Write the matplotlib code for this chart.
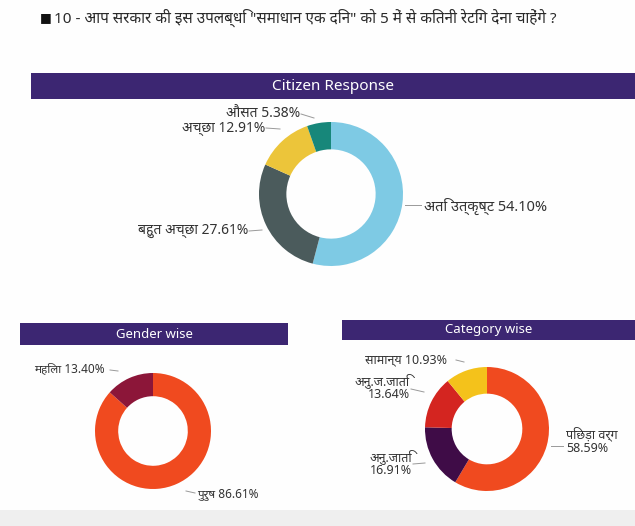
import matplotlib
matplotlib.use("Agg")
import matplotlib.pyplot as plt
from matplotlib import font_manager
from matplotlib.ft2font import FT2Font
from matplotlib.patches import Rectangle

# ---- data -------------------------------------------------------------
question = "10 - आप सरकार की इस उपलब्धि \"समाधान एक दिन\" को 5 में से कितनी रेटिंग देना चाहेंगे ?"

citizen_labels = ["अति उत्कृष्ट", "बहुत अच्छा", "अच्छा", "औसत"]
citizen_values = [54.10, 27.61, 12.91, 5.38]

gender_labels = ["पुरुष", "महिला"]
gender_values = [86.61, 13.40]

category_labels = ["पिछड़ा वर्ग", "अनु.जाति", "अनु.ज.जाति", "सामान्य"]
category_values = [58.59, 16.91, 13.64, 10.93]

# ---- font with Devanagari support --------------------------------------
def find_devanagari_font():
    seen = set()
    for fe in font_manager.fontManager.ttflist:
        if fe.fname in seen:
            continue
        seen.add(fe.fname)
        try:
            cmap = FT2Font(fe.fname).get_charmap()
        except Exception:
            continue
        if 0x0905 in cmap and 0x0915 in cmap:
            return fe.name
    return None

dev = find_devanagari_font()
families = ["Noto Sans"] + ([dev] if dev else []) + ["DejaVu Sans"]
plt.rcParams["font.family"] = families

W, H = 635, 526
fig = plt.figure(figsize=(W / 100, H / 100), dpi=100)
fig.patch.set_facecolor("#fefefe")


def fx(x):
    return x / W


def fy(y):
    return 1 - y / H


def px_axes(x, y, w, h):
    return fig.add_axes([fx(x), fy(y + h), w / W, h / H])


# bottom grey strip
fig.patches.append(Rectangle((0, 0), 1, 16 / H, transform=fig.transFigure,
                             facecolor="#efefef", edgecolor="none", zorder=0))

# question line
fig.text(fx(40), fy(18), "■", fontsize=9, color="#111111", va="center",
         family="DejaVu Sans")
fig.text(fx(54), fy(18), question, fontsize=11, color="#2a2a2a", va="center")

BANNER = "#3c2672"


def banner(x0, x1, y0, y1, text, size=7.5):
    fig.patches.append(Rectangle((fx(x0), fy(y1)), (x1 - x0) / W, (y1 - y0) / H,
                                 transform=fig.transFigure, facecolor=BANNER,
                                 edgecolor="none", zorder=1))
    fig.text(fx((x0 + x1) / 2), fy((y0 + y1) / 2), text, color="white",
             fontsize=size, ha="center", va="center", zorder=2)


banner(31, 635, 73, 99, "Citizen Response", 11)
banner(20, 288, 323, 345, "Gender wise", 9.5)
banner(342, 635, 320, 340, "Category wise", 9.5)


def donut(cx, cy, r, values, colors, width):
    ax = px_axes(cx - r, cy - r, 2 * r, 2 * r)
    ax.pie(values, colors=colors, startangle=90, counterclock=False,
           radius=1, wedgeprops=dict(width=width, edgecolor="none"))
    ax.set_xlim(-1, 1)
    ax.set_ylim(-1, 1)
    ax.set_aspect("equal")
    ax.axis("off")
    return ax


donut(331, 194, 72, citizen_values,
      ["#7ecae4", "#4b5b5c", "#ecc53a", "#17877a"], 0.38)
donut(153, 431, 58, gender_values, ["#f04a1f", "#8c1639"], 0.4)
donut(487, 429, 62, category_values,
      ["#f04a1f", "#3f0c47", "#d42520", "#f4c21b"], 0.43)

TXT = "#333333"


def label(x, y, text, ha="left", size=7, line=None):
    fig.text(fx(x), fy(y), text, fontsize=size, color=TXT, ha=ha, va="center",
             linespacing=1.05)
    if line:
        (x0, y0), (x1, y1) = line
        fig.add_artist(plt.Line2D([fx(x0), fx(x1)], [fy(y0), fy(y1)],
                                  color="#999999", lw=0.7))


def pct(v):
    return f"{v:.2f}%"


# citizen response labels
label(300, 113, f"{citizen_labels[3]} {pct(citizen_values[3])}", ha="right",
      size=10, line=((301, 114), (314, 118)))
label(265, 128, f"{citizen_labels[2]} {pct(citizen_values[2])}", ha="right",
      size=10, line=((266, 128), (280, 129)))
label(248, 231, f"{citizen_labels[1]} {pct(citizen_values[1])}", ha="right",
      size=10, line=((249, 231), (262, 230)))
label(424, 206, f"{citizen_labels[0]} {pct(citizen_values[0])}", ha="left",
      size=10.5, line=((405, 205), (421, 205)))

# gender labels
label(34, 369, f"{gender_labels[1]} {pct(gender_values[1])}", ha="left",
      size=8.5, line=((110, 370), (118, 371)))
label(197, 494, f"{gender_labels[0]} {pct(gender_values[0])}", ha="left",
      size=8.5, line=((186, 491), (195, 493)))

# category labels
label(365, 360, f"{category_labels[3]} {pct(category_values[3])}", ha="left",
      size=9, line=((456, 360), (464, 362)))
label(410, 387, f"{category_labels[2]}\n{pct(category_values[2])}", ha="right",
      size=9, line=((411, 389), (424, 392)))
label(412, 463, f"{category_labels[1]}\n{pct(category_values[1])}", ha="right",
      size=9, line=((413, 464), (425, 463)))
label(566, 441, f"{category_labels[0]}\n{pct(category_values[0])}", ha="left",
      size=9, line=((551, 446), (563, 446)))

fig.savefig("out.png", dpi=100, facecolor=fig.get_facecolor())
